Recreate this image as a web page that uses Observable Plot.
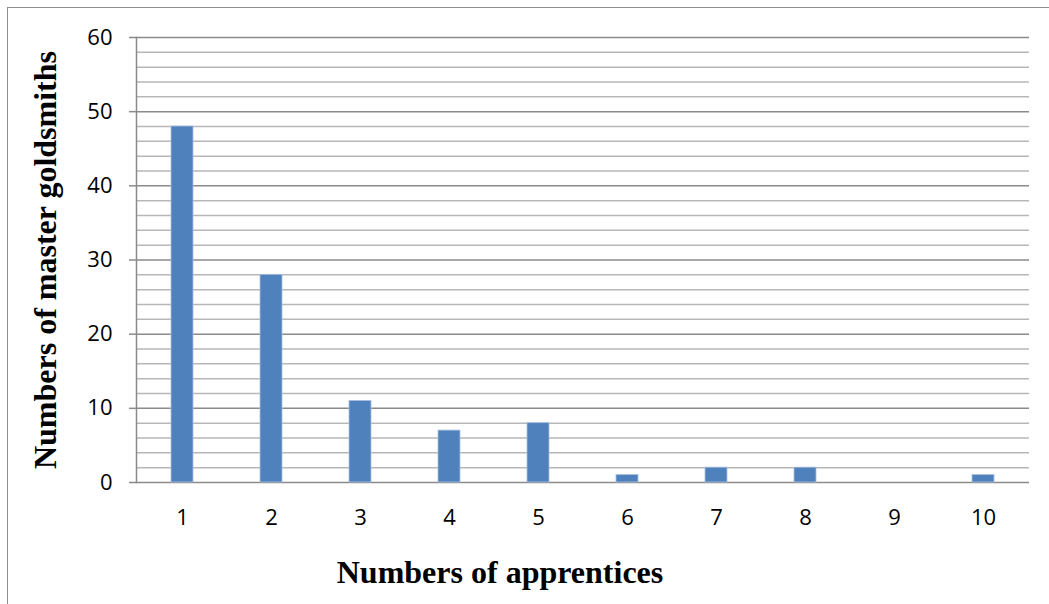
<!DOCTYPE html>
<html>
<head>
<meta charset="utf-8">
<script src="https://cdn.jsdelivr.net/npm/d3@7"></script>
<script src="https://cdn.jsdelivr.net/npm/@observablehq/plot@0.6"></script>
<style>
  html, body { margin: 0; padding: 0; background: #fff; }
  #wrap { position: relative; width: 1049px; height: 604px; overflow: hidden; }
  #edge { position: absolute; left: 7px; top: 7px; width: 1060px; height: 620px;
          border-top: 1.5px solid #8e8e8e; border-left: 1.5px solid #8e8e8e; }
  #chart { position: absolute; left: 0; top: 0; }
</style>
</head>
<body>
<div id="wrap"><div id="edge"></div><div id="chart"></div></div>
<script>
// Master goldsmiths by number of apprentices kept
const apprentices = [1, 2, 3, 4, 5, 6, 7, 8, 9, 10];
const masters = [48, 28, 11, 7, 8, 1, 2, 2, 0, 1];
const majorTicks = [0, 10, 20, 30, 40, 50, 60];
const minorTicks = d3.range(0, 61, 2).filter(v => v % 10 !== 0);

const xTitle = "Numbers of apprentices";
const yTitle = "Numbers of master goldsmiths";

const data = apprentices.map((a, i) => ({apprentices: a, masters: masters[i]}));
const serif = "'Liberation Serif', 'Times New Roman', serif";

const chart = Plot.plot({
  width: 1049,
  height: 604,
  marginLeft: 136,
  marginRight: 20,
  marginTop: 37,
  marginBottom: 122,
  style: {fontFamily: "'Open Sans', sans-serif", background: "transparent"},
  x: {type: "band", domain: apprentices, paddingInner: 0.75, paddingOuter: 0.375, label: null},
  y: {domain: [0, 60], label: null},
  marks: [
    Plot.ruleY(minorTicks, {stroke: "#b7b7b7", strokeWidth: 1.5}),
    Plot.ruleY(majorTicks, {stroke: "#8a8a8a", strokeWidth: 1.5}),
    Plot.barY(data, {x: "apprentices", y: "masters", fill: "#4f81bd", stroke: "#a9c1de", strokeWidth: 0.8}),
    Plot.frame({anchor: "left", stroke: "#8a8a8a", strokeWidth: 1.5}),
    Plot.axisY({ticks: majorTicks, tickSize: 7, tickPadding: 17, fontSize: 22, stroke: "#8a8a8a", strokeWidth: 1.5, color: "#000", label: null}),
    Plot.axisX({tickSize: 0, tickPadding: 27, fontSize: 22, color: "#000", label: null}),
    Plot.text([xTitle], {frameAnchor: "bottom", dx: -83, dy: 100, text: d => d, fontFamily: serif, fontWeight: "bold", fontSize: 32, fill: "#000"}),
    Plot.text([yTitle], {frameAnchor: "left", dx: -91, rotate: -90, textAnchor: "middle", text: d => d, fontFamily: serif, fontWeight: "bold", fontSize: 32, fill: "#000"})
  ]
});
document.getElementById("chart").appendChild(chart);
</script>
</body>
</html>
